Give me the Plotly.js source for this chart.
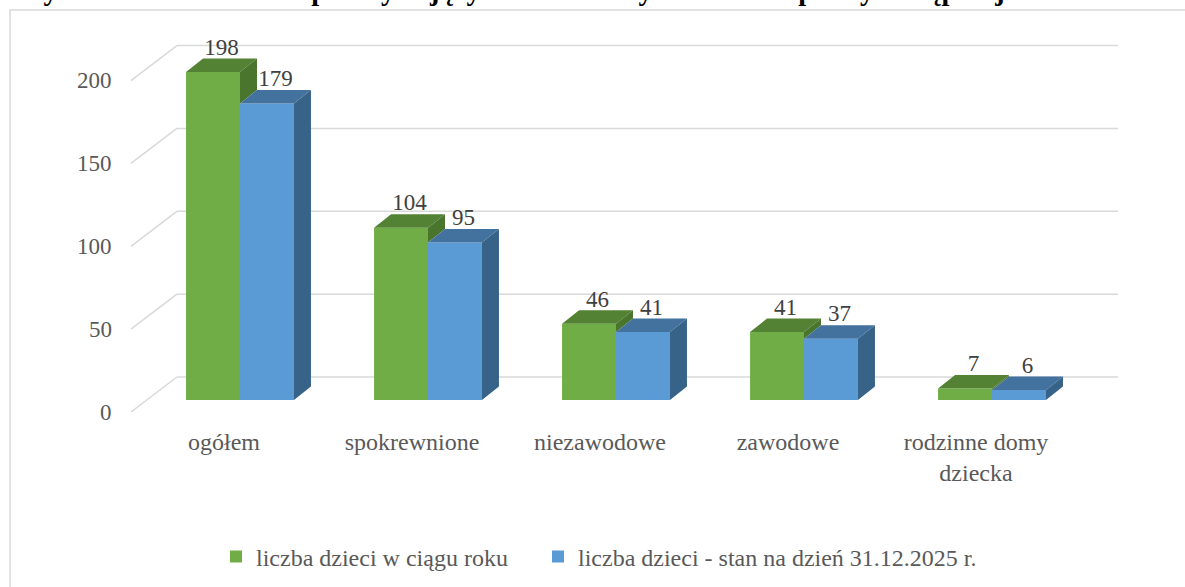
<!DOCTYPE html>
<html>
<head>
<meta charset="utf-8">
<script src="https://cdn.plot.ly/plotly-3.0.1.min.js"></script>
<style>
  html, body { margin: 0; padding: 0; background: #fff; }
  #chart { width: 1185px; height: 587px; }
</style>
</head>
<body>
<div id="chart"></div>
<script>
'use strict';

const categories = ['ogółem', 'spokrewnione', 'niezawodowe', 'zawodowe', 'rodzinne domy<br>dziecka'];
const duringYear = [198, 104, 46, 41, 7];
const endOfYear = [179, 95, 41, 37, 6];
const seriesNames = ['liczba dzieci w ciągu roku', 'liczba dzieci - stan na dzień 31.12.2025 r.'];
const yTicks = [0, 50, 100, 150, 200];
const chartTitle = 'Wykres 2. Liczba dzieci przebywających w rodzinnych formach pieczy zastępczej w 2025 r.';

const SERIF = '"Liberation Serif", "Times New Roman", "DejaVu Serif", serif';

const W = 1185, H = 587;
const M = { l: 120, r: 40, t: 30, b: 175 };
const xRange = [-0.6383, 4.8138];
const yRange = [-7.242, 223.29];
const plotW = W - M.l - M.r;
const plotH = H - M.t - M.b;
const KX = plotW / (xRange[1] - xRange[0]);   // px per category step
const KY = plotH / (yRange[1] - yRange[0]);   // px per child
const ux = px => px / KX;
const uy = px => -px / KY;

// fake 3d: depth offsets in screen px
const bdx = ux(17), bdy = uy(-13.5);   // bar depth
const wdx = ux(30), wdy = uy(-23);     // back wall
const fdx = ux(-16), fdy = uy(12);     // floor front edge
const BAR_W = 0.287;
const PLANE_X0 = -0.495, PLANE_X1 = 4.51;
const xs = categories.map((c, i) => i);

const series = [
  { name: seriesNames[0], y: duringYear, off: -BAR_W, legend: 'legend',
    front: '#70ad47', top: '#548235', side: '#4a752c' },
  { name: seriesNames[1], y: endOfYear, off: 0, legend: 'legend2',
    front: '#5b9bd5', top: '#43729f', side: '#386389' }
];

const data = [];

// front faces
series.forEach(s => {
  data.push({
    type: 'bar',
    x: xs,
    y: s.y,
    name: s.name,
    legend: s.legend,
    width: BAR_W,
    offset: s.off,
    marker: { color: s.front, line: { width: 0 } },
    hoverinfo: 'skip'
  });
});

// top and side faces
series.forEach((s, k) => {
  const next = series[k + 1];
  const top = { x: [], y: [] };
  const side = { x: [], y: [] };
  s.y.forEach((v, i) => {
    const x0 = i + s.off, x1 = x0 + BAR_W;
    top.x.push(x0, x1, x1 + bdx, x0 + bdx, x0, null);
    top.y.push(v, v, v + bdy, v + bdy, v, null);
    const lo = next ? next.y[i] : 0;
    if (v > lo) {
      side.x.push(x1, x1 + bdx, x1 + bdx, x1, x1, null);
      side.y.push(lo, lo + bdy, v + bdy, v, lo, null);
    }
  });
  [[top, s.top], [side, s.side]].forEach(([f, col]) => {
    data.push({
      type: 'scatter', mode: 'lines', x: f.x, y: f.y,
      fill: 'toself', fillcolor: col, line: { width: 0, color: col },
      showlegend: false, hoverinfo: 'skip'
    });
  });
});

// value labels
series.forEach(s => {
  data.push({
    type: 'scatter', mode: 'text',
    x: s.y.map((v, i) => i + s.off + BAR_W / 2 + bdx / 2),
    y: s.y.map(v => v + bdy + uy(2)),
    text: s.y.map(String),
    textposition: 'top center',
    textfont: { family: SERIF, size: 23, color: '#404040' },
    cliponaxis: false, showlegend: false, hoverinfo: 'skip'
  });
});

const shapes = [];
yTicks.forEach(t => {
  shapes.push({
    type: 'line', layer: 'below', xref: 'x', yref: 'y',
    x0: PLANE_X0 + wdx, y0: t + wdy, x1: PLANE_X1 + wdx, y1: t + wdy,
    line: { color: '#d9d9d9', width: 1.5 }
  });
  shapes.push({
    type: 'line', layer: 'below', xref: 'x', yref: 'y',
    x0: PLANE_X0 + fdx, y0: t + fdy, x1: PLANE_X0 + wdx, y1: t + wdy,
    line: { color: '#d9d9d9', width: 1.5 }
  });
});
// chart frame
shapes.push({
  type: 'rect', layer: 'below', xref: 'paper', yref: 'paper',
  x0: (10 - M.l) / plotW, x1: (W + 5 - M.l) / plotW,
  y0: (H - M.b - 10) / plotH, y1: (H - M.b - H - 5) / plotH,
  line: { color: '#d9d9d9', width: 1.5 }
});

const annotations = yTicks.map(t => ({
  xref: 'x', yref: 'y', x: PLANE_X0 + fdx, y: t + fdy,
  text: String(t), showarrow: false, xanchor: 'right', yanchor: 'middle', xshift: -17,
  font: { family: SERIF, size: 23, color: '#595959' }
}));
// title, partly cut off by the top edge as in the source
annotations.push({
  xref: 'paper', yref: 'paper', x: (568 - M.l) / plotW, y: (H - M.b + 9) / plotH,
  text: '<b>' + chartTitle + '</b>', showarrow: false, xanchor: 'center', yanchor: 'middle',
  font: { family: SERIF, size: 28.5, color: '#000' }
});

const legendBase = {
  orientation: 'h', xref: 'container', yref: 'container',
  xanchor: 'left', y: 1 - 557 / H, yanchor: 'middle',
  font: { family: SERIF, size: 24, color: '#595959' },
  bgcolor: 'rgba(0,0,0,0)'
};

const layout = {
  width: W, height: H,
  margin: M,
  paper_bgcolor: '#fff', plot_bgcolor: '#fff',
  showlegend: true,
  hovermode: false,
  xaxis: {
    range: xRange, showgrid: false, zeroline: false, showline: false, ticks: '',
    tickvals: xs.map(i => i + fdx), ticktext: categories,
    tickfont: { family: SERIF, size: 24, color: '#595959' },
    ticklabelstandoff: 13, fixedrange: true
  },
  yaxis: { range: yRange, visible: false, fixedrange: true },
  legend: Object.assign({}, legendBase, { x: 216 / W }),
  legend2: Object.assign({}, legendBase, { x: 538 / W }),
  shapes: shapes,
  annotations: annotations
};

Plotly.newPlot('chart', data, layout, { displayModeBar: false, staticPlot: true });
</script>
</body>
</html>
